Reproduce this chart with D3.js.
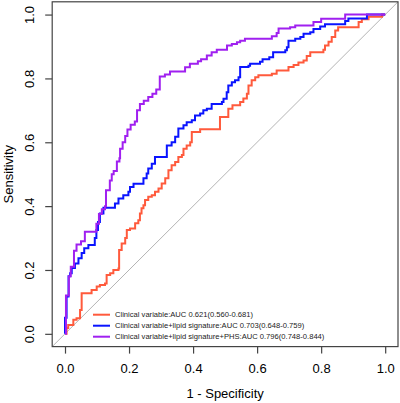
<!DOCTYPE html>
<html><head><meta charset="utf-8">
<script src="https://cdn.jsdelivr.net/npm/d3@7"></script>
<style>body{margin:0;background:#fff}svg{display:block}text{font-family:"Liberation Sans",Arial,sans-serif}</style>
</head><body>
<svg id="c" width="400" height="403"></svg>
<script>
// ROC step points: [1 - specificity, sensitivity] (curve rises to sensitivity at that FPR)
const clinical = [[0,0],[0.005,0.018],[0.010,0.028],[0.026,0.044],[0.036,0.049],[0.047,0.075],[0.052,0.127],[0.083,0.1375],[0.099,0.148],[0.109,0.153],[0.125,0.158],[0.130,0.184],[0.141,0.19],[0.151,0.2],[0.167,0.205],[0.169,0.2625],[0.177,0.283],[0.188,0.30],[0.193,0.325],[0.203,0.33],[0.219,0.346],[0.229,0.356],[0.234,0.377],[0.239,0.393],[0.245,0.403],[0.25,0.419],[0.26,0.429],[0.271,0.434],[0.281,0.445],[0.292,0.455],[0.302,0.471],[0.313,0.487],[0.323,0.5125],[0.333,0.528],[0.344,0.538],[0.354,0.554],[0.365,0.56],[0.370,0.58],[0.38,0.59],[0.391,0.60],[0.396,0.632],[0.422,0.641],[0.484,0.679],[0.51,0.705],[0.523,0.716],[0.547,0.726],[0.557,0.737],[0.568,0.752],[0.573,0.778],[0.583,0.794],[0.594,0.804],[0.604,0.81],[0.646,0.815],[0.661,0.825],[0.698,0.836],[0.714,0.842],[0.729,0.85],[0.745,0.856],[0.755,0.87],[0.766,0.882],[0.807,0.89],[0.812,0.903],[0.823,0.915],[0.833,0.93],[0.844,0.95],[0.853,0.96],[0.917,0.977],[0.927,0.985],[0.948,0.993],[0.99,1.0],[1,1]];
const clinicalLipid = [[0,0],[0,0.05],[0.005,0.117],[0.011,0.18],[0.016,0.19],[0.021,0.206],[0.031,0.22],[0.042,0.237],[0.052,0.253],[0.060,0.268],[0.073,0.278],[0.093,0.30],[0.098,0.325],[0.103,0.35],[0.109,0.377],[0.12,0.395],[0.156,0.408],[0.167,0.424],[0.182,0.434],[0.198,0.445],[0.203,0.46],[0.214,0.47],[0.245,0.487],[0.255,0.502],[0.26,0.518],[0.271,0.533],[0.281,0.554],[0.318,0.59],[0.333,0.60],[0.344,0.617],[0.354,0.643],[0.370,0.653],[0.380,0.663],[0.396,0.669],[0.406,0.684],[0.422,0.69],[0.432,0.70],[0.443,0.705],[0.458,0.72],[0.490,0.726],[0.495,0.736],[0.505,0.757],[0.51,0.778],[0.521,0.788],[0.531,0.794],[0.542,0.804],[0.547,0.836],[0.573,0.84],[0.578,0.846],[0.609,0.852],[0.617,0.86],[0.638,0.866],[0.65,0.882],[0.688,0.888],[0.693,0.898],[0.698,0.918],[0.719,0.924],[0.735,0.93],[0.745,0.94],[0.766,0.945],[0.776,0.955],[0.797,0.963],[0.812,0.97],[0.875,0.98],[0.885,0.988],[0.943,1.0],[1,1]];
const clinicalLipidPHS = [[0,0],[0.003,0.12],[0.012,0.18],[0.018,0.21],[0.028,0.26],[0.036,0.28],[0.05,0.29],[0.062,0.32],[0.098,0.345],[0.106,0.375],[0.115,0.39],[0.125,0.40],[0.128,0.45],[0.14,0.48],[0.146,0.50],[0.152,0.51],[0.162,0.54],[0.170,0.55],[0.172,0.58],[0.180,0.60],[0.188,0.62],[0.195,0.64],[0.205,0.655],[0.218,0.665],[0.225,0.70],[0.234,0.72],[0.246,0.73],[0.260,0.742],[0.273,0.752],[0.285,0.765],[0.296,0.806],[0.312,0.812],[0.328,0.822],[0.375,0.835],[0.390,0.846],[0.415,0.854],[0.425,0.860],[0.443,0.872],[0.458,0.882],[0.474,0.89],[0.506,0.903],[0.521,0.908],[0.537,0.913],[0.547,0.918],[0.562,0.924],[0.646,0.932],[0.661,0.942],[0.667,0.956],[0.703,0.96],[0.719,0.966],[0.776,0.977],[0.80,0.987],[0.875,1.0],[1,1]];

const seriesNames = ["Clinical variable:AUC 0.621(0.560-0.681)",
  "Clinical variable+lipid signature:AUC 0.703(0.648-0.759)",
  "Clinical variable+lipid signature+PHS:AUC 0.796(0.748-0.844)"];
const seriesColors = ["#FF5A3C", "#0A14FF", "#A020F0"];
const ticks = [0, 0.2, 0.4, 0.6, 0.8, 1.0];

const svg = d3.select("#c");
const x = d3.scaleLinear().domain([-0.04, 1.04]).range([52.2, 398]);
const y = d3.scaleLinear().domain([-0.04, 1.04]).range([346.6, 1.8]);

svg.append("clipPath").attr("id","clip").append("rect")
  .attr("x", x(-0.04)).attr("y", y(1.04)).attr("width", x(1.04)-x(-0.04)).attr("height", y(-0.04)-y(1.04));

// diagonal reference
svg.append("line").attr("clip-path","url(#clip)")
  .attr("x1", x(-0.04)).attr("y1", y(-0.04)).attr("x2", x(1.04)).attr("y2", y(1.04))
  .attr("stroke", "#b4b4b4").attr("stroke-width", 1);

const line = d3.line().x(d => x(d[0])).y(d => y(d[1])).curve(d3.curveStepAfter);
[clinical, clinicalLipid, clinicalLipidPHS].forEach((s, i) => {
  svg.append("path").datum(s).attr("d", line).attr("fill","none")
    .attr("stroke", seriesColors[i]).attr("stroke-width", 2);
});

// frame
svg.append("rect").attr("x", x(-0.04)).attr("y", y(1.04))
  .attr("width", x(1.04)-x(-0.04)).attr("height", y(-0.04)-y(1.04))
  .attr("fill","none").attr("stroke","#444").attr("stroke-width",1.2);

// axes
const xa = svg.append("g").attr("transform", `translate(0,${y(-0.04)})`)
  .call(d3.axisBottom(x).tickValues(ticks).tickFormat(d3.format(".1f")).tickSize(7).tickPadding(10));
const ya = svg.append("g").attr("transform", `translate(${x(-0.04)},0)`)
  .call(d3.axisLeft(y).tickValues(ticks).tickFormat(d3.format(".1f")).tickSize(7).tickPadding(8));
[xa, ya].forEach(g => {
  g.select(".domain").remove();
  g.selectAll("line").attr("stroke","#444").attr("stroke-width",1.2);
  g.selectAll("text").attr("font-size", 13).attr("fill","#000").attr("font-family","Liberation Sans, Arial, sans-serif");
});
ya.selectAll(".tick text").attr("text-anchor","middle").attr("dy", null)
  .attr("transform", null).attr("x", null)
  .each(function(){ d3.select(this).attr("transform", `translate(-23,0) rotate(-90)`).attr("dy","0.35em"); });

svg.append("text").attr("x", x(0.5)).attr("y", 398).attr("text-anchor","middle")
  .attr("font-size", 13).text("1 - Specificity");
svg.append("text").attr("transform", `translate(13,${y(0.5)}) rotate(-90)`).attr("text-anchor","middle")
  .attr("font-size", 13).text("Sensitivity");

// legend
const leg = svg.append("g");
seriesNames.forEach((n, i) => {
  const ly = 314.7 + i * 11;
  leg.append("line").attr("x1", 93).attr("x2", 110).attr("y1", ly).attr("y2", ly)
    .attr("stroke", seriesColors[i]).attr("stroke-width", 2);
  leg.append("text").attr("x", 115).attr("y", ly).attr("dy","0.35em")
    .attr("font-size", 7.6).attr("fill","#222").text(n);
});
</script>
</body></html>
